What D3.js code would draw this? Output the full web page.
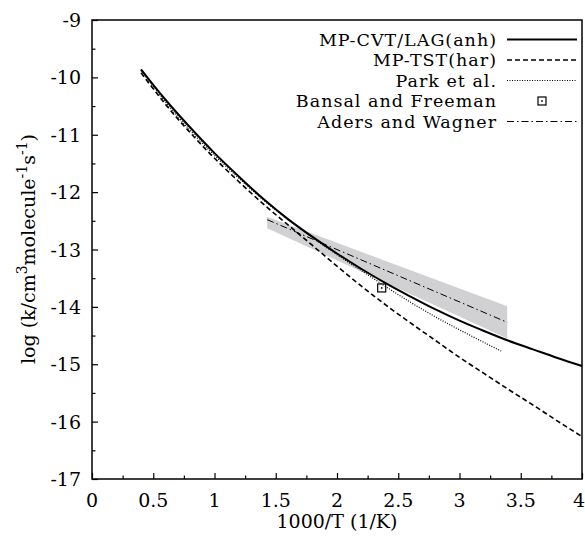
<!DOCTYPE html>
<html>
<head>
<meta charset="utf-8">
<script src="https://cdn.jsdelivr.net/npm/d3@7"></script>
<style>
  body { margin: 0; background: #fff; }
  text { font-family: "DejaVu Serif", "Liberation Serif", serif; fill: #000; }
</style>
</head>
<body>
<svg id="chart" width="585" height="536"></svg>
<script>
// 1000/T values and log k for each series
var cvtX = [0.4, 0.5, 0.6, 0.8, 1.0, 1.2, 1.4, 1.6, 1.8, 2.0, 2.2, 2.4, 2.6, 2.8, 3.0, 3.2, 3.4, 3.6, 3.8, 4.0];
var cvtY = [-9.86, -10.13, -10.39, -10.87, -11.32, -11.73, -12.12, -12.47, -12.78, -13.07, -13.34, -13.59, -13.82, -14.04, -14.24, -14.42, -14.59, -14.74, -14.89, -15.03];
var tstX = [0.4, 0.5, 0.6, 0.8, 1.0, 1.2, 1.4, 1.6, 1.8, 2.0, 2.2, 2.4, 2.6, 2.8, 3.0, 3.2, 3.4, 3.6, 3.8, 4.0];
var tstY = [-9.92, -10.2, -10.47, -10.96, -11.41, -11.82, -12.21, -12.57, -12.93, -13.29, -13.64, -13.97, -14.28, -14.58, -14.88, -15.16, -15.44, -15.71, -15.99, -16.26];
var parkX = [0.4, 0.5, 0.6, 0.8, 1.0, 1.2, 1.4, 1.6, 1.8, 2.0, 2.2, 2.4, 2.6, 2.8, 3.0, 3.2, 3.34];
var parkY = [-9.88, -10.16, -10.43, -10.92, -11.36, -11.76, -12.14, -12.48, -12.79, -13.09, -13.37, -13.65, -13.92, -14.17, -14.4, -14.62, -14.77];
var bansalX = [2.365];
var bansalY = [-13.67];
var adersX = [1.43, 3.39];
var adersY = [-12.48, -14.27];
var adersHi = [-12.43, -13.99];
var adersLo = [-12.63, -14.55];
var xTicks = [0, 0.5, 1, 1.5, 2, 2.5, 3, 3.5, 4];
var yTicks = [-17, -16, -15, -14, -13, -12, -11, -10, -9];
var legendNames = ['MP-CVT/LAG(anh)', 'MP-TST(har)', 'Park et al.', 'Bansal and Freeman', 'Aders and Wagner'];

var svg, x, y, line, band, zip, legend;
svg = d3.select('#chart');
x = d3.scaleLinear().domain([0, 4]).range([92, 582]);
y = d3.scaleLinear().domain([-17, -9]).range([479, 20]);

zip = function(xs, ys) {
  return xs.map(function(v, i) { return [v, ys[i]]; });
};
line = d3.line().x(function(d) { return x(d[0]); }).y(function(d) { return y(d[1]); }).curve(d3.curveMonotoneX);

// uncertainty band of Aders and Wagner
band = d3.area().x(function(d) { return x(d[0]); }).y0(function(d) { return y(d[1]); }).y1(function(d) { return y(d[2]); });
svg.append('path').datum(adersX.map(function(v, i) { return [v, adersLo[i], adersHi[i]]; }))
  .attr('d', band).style('fill', '#d1d1d3');

// axes (ticks inward, no mirror)
var xAxis = d3.axisBottom(x).tickValues(d3.range(0, 4.01, 0.25)).tickSizeInner(-6).tickSizeOuter(0).tickFormat('');
var yAxis = d3.axisLeft(y).tickValues(d3.range(-17, -8.99, 0.5)).tickSizeInner(-6).tickSizeOuter(0).tickFormat('');
var gx = svg.append('g').attr('transform', 'translate(0,479)').call(xAxis);
var gy = svg.append('g').attr('transform', 'translate(92,0)').call(yAxis);
gx.selectAll('.tick line').attr('y2', function(d) { return Math.abs(d * 2 - Math.round(d * 2)) < 1e-6 ? -6 : -3.5; });
gy.selectAll('.tick line').attr('x2', function(d) { return Math.abs(d - Math.round(d)) < 1e-6 ? 6 : 3.5; });
svg.selectAll('.domain').remove();
svg.selectAll('.tick line').style('stroke', '#000').style('stroke-width', 1.2);

svg.append('rect').attr('x', 92).attr('y', 20).attr('width', 490).attr('height', 459)
  .style('fill', 'none').style('stroke', '#000').style('stroke-width', 1.5);

svg.selectAll('text.xt').data(xTicks).enter().append('text').attr('class', 'xt')
  .attr('x', function(d) { return d === 4 ? 585 : x(d); }).attr('y', 507)
  .attr('text-anchor', function(d) { return d === 4 ? 'end' : 'middle'; })
  .style('font-size', '19px').text(function(d) { return d; });
svg.selectAll('text.yt').data(yTicks).enter().append('text').attr('class', 'yt')
  .attr('x', 81).attr('y', function(d) { return y(d) + 7; }).attr('text-anchor', 'end')
  .style('font-size', '19px').text(function(d) { return d; });

svg.append('text').attr('x', 337).attr('y', 528).attr('text-anchor', 'middle')
  .style('font-size', '19px').text('1000/T (1/K)');

var yl = svg.append('text').attr('transform', 'translate(35,249) rotate(-90)').attr('text-anchor', 'middle')
  .style('font-size', '19px');
yl.append('tspan').text('log (k/cm');
yl.append('tspan').attr('dy', -8).style('font-size', '14px').text('3');
yl.append('tspan').attr('dy', 8).text('molecule');
yl.append('tspan').attr('dy', -8).style('font-size', '14px').text('-1');
yl.append('tspan').attr('dy', 8).text('s');
yl.append('tspan').attr('dy', -8).style('font-size', '14px').text('-1');
yl.append('tspan').attr('dy', 8).text(')');

// curves
svg.append('path').datum(zip(tstX, tstY)).attr('d', line)
  .style('fill', 'none').style('stroke', '#000').style('stroke-width', 1.6).style('stroke-dasharray', '5,3');
svg.append('path').datum(zip(parkX, parkY)).attr('d', line)
  .style('fill', 'none').style('stroke', '#000').style('stroke-width', 1.2).style('stroke-dasharray', '1,1.5');
svg.append('path').datum(zip(adersX, adersY)).attr('d', line)
  .style('fill', 'none').style('stroke', '#000').style('stroke-width', 1).style('stroke-dasharray', '7,3,1.5,3');
svg.append('path').datum(zip(cvtX, cvtY)).attr('d', line)
  .style('fill', 'none').style('stroke', '#000').style('stroke-width', 2);

var drawBox = function(g, cx, cy) {
  g.append('rect').attr('x', cx - 4).attr('y', cy - 4).attr('width', 8).attr('height', 8)
    .style('fill', 'none').style('stroke', '#000').style('stroke-width', 1.2);
  g.append('rect').attr('x', cx - 0.8).attr('y', cy - 0.8).attr('width', 1.6).attr('height', 1.6).style('fill', '#000');
};
zip(bansalX, bansalY).forEach(function(d) { drawBox(svg, x(d[0]), y(d[1])); });

// legend
legend = svg.append('g');
var styles = [
  { w: 2, dash: null },
  { w: 1.6, dash: '5,3' },
  { w: 1.2, dash: '1,1.5' },
  null,
  { w: 1, dash: '7,3,1.5,3' }
];
legendNames.forEach(function(name, i) {
  var ry = 39.5 + i * 20.5;
  legend.append('text').attr('x', 497).attr('y', ry + 6).attr('text-anchor', 'end')
    .style('font-size', '17.5px').style('letter-spacing', '1px').text(name);
  if (styles[i]) {
    legend.append('line').attr('x1', 507).attr('x2', 577).attr('y1', ry).attr('y2', ry)
      .style('stroke', '#000').style('stroke-width', styles[i].w).style('stroke-dasharray', styles[i].dash);
  } else {
    drawBox(legend, 542, ry);
  }
});
</script>
</body>
</html>
